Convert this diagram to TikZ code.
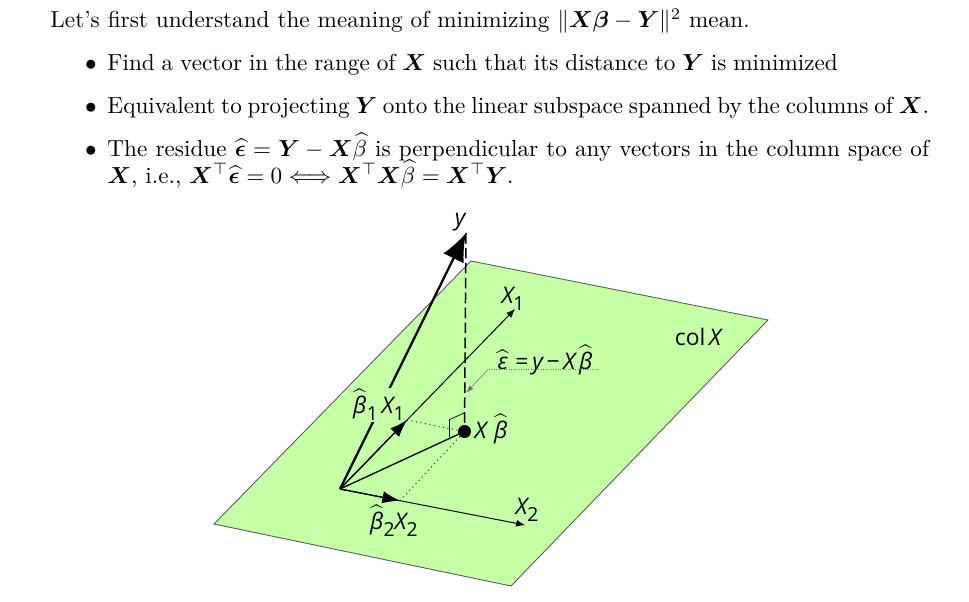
\documentclass[tikz,border=0pt]{standalone}
\usepackage{amsmath,amssymb}
\usepackage{bm}
\usepackage{fontspec}
\usepackage{xcolor}
\usetikzlibrary{arrows.meta}
\newfontfamily\labelfont{Open Sans}
\definecolor{planegreen}{RGB}{197,255,166}
\definecolor{edgegray}{RGB}{90,90,90}
\newcommand{\hatlbl}[1]{$\widehat{\hbox{\itshape\labelfont\,#1\,}}$}
\newcommand{\sublbl}[1]{\raisebox{-0.6ex}{\upshape\fontsize{11}{11}\selectfont #1}}
\begin{document}
\begin{tikzpicture}[x=0.02cm, y=-0.02cm]
    % Define styles
    \tikzset{
        textline/.style={anchor=base west, inner sep=0pt, scale=1.32},
        dotmark/.style={anchor=base, inner sep=0pt, scale=1.32},
        veclabel/.style={inner sep=1pt, font=\fontsize{13}{14}\selectfont\itshape\labelfont},
        vecline/.style={-{Latex[length=5pt,width=4pt]}, line width=0.55pt},
        halfvec/.style={-{Latex[length=10pt,width=7pt]}, line width=0.75pt},
        dotline/.style={dotted, line width=0.6pt, black!80}
    }
    \useasboundingbox (0,0) rectangle (969,601);

    % Text
    \node[textline] (intro) at (50,28) {\makebox[301.5pt][s]{Let's first understand the meaning of minimizing $\|\bm{X}\bm{\beta}-\bm{Y}\|^2$ mean.}};
    \node[dotmark] (dota) at (91,71) {$\bullet$};
    \node[textline] (linea) at (107,71) {\makebox[314.9pt][s]{Find a vector in the range of $\bm{X}$ such that its distance to $\bm{Y}$ is minimized}};
    \node[dotmark] (dotb) at (91,114) {$\bullet$};
    \node[textline] (lineb) at (107,114) {\makebox[354.3pt][s]{Equivalent to projecting $\bm{Y}$ onto the linear subspace spanned by the columns of $\bm{X}$.}};
    \node[dotmark] (dotc) at (91,156) {$\bullet$};
    \node[textline] (linec) at (107,156) {\makebox[354.3pt][s]{The residue $\widehat{\bm{\epsilon}}=\bm{Y}-\bm{X}\widehat{\beta}$ is perpendicular to any vectors in the column space of}};
    \node[textline] (lined) at (107,183) {$\bm{X}$, i.e., $\bm{X}^{\top}\widehat{\bm{\epsilon}}=0\Longleftrightarrow\bm{X}^{\top}\bm{X}\widehat{\beta}=\bm{X}^{\top}\bm{Y}$.};

    % Plane
    \coordinate (north) at (471,261);
    \coordinate (east) at (768,320);
    \coordinate (south) at (511,586);
    \coordinate (west) at (214,524);
    \draw[fill=planegreen, draw=edgegray, line width=0.5pt] (north) -- (east) -- (south) -- (west) -- cycle;

    % Points
    \coordinate (origin) at (340,489);
    \coordinate (ytip) at (466,233);
    \coordinate (xonetip) at (515,309);
    \coordinate (xtwotip) at (525,525);
    \coordinate (bonetip) at (407,420);
    \coordinate (btwotip) at (400,500.7);
    \coordinate (proj) at (464.5,431.5);

    % Vectors
    \draw[-{Latex[length=16pt,width=13pt]}, line width=1.3pt] (origin) -- (ytip);
    \node[veclabel, fill=planegreen] (bonelabel) at (377,405) {\hatlbl{β}\kern-2pt\sublbl{1}\,X\sublbl{1}};
    \draw[dashed, dash pattern=on 6pt off 2.5pt, line width=0.85pt] (ytip) -- (proj);
    \draw[vecline] (origin) -- (xonetip);
    \draw[vecline] (origin) -- (xtwotip);
    \draw[halfvec] (origin) -- (bonetip);
    \draw[halfvec] (origin) -- (btwotip);
    \draw[line width=0.75pt] (origin) -- (proj);
    \draw[dotline] (bonetip) -- (proj);
    \draw[dotline] (btwotip) -- (proj);

    % Right angle mark
    \coordinate (anglea) at (449.5,437);
    \coordinate (angleb) at (449.5,419.5);
    \coordinate (anglec) at (464,413);
    \draw[line width=0.4pt] (anglea) -- (angleb) -- (anglec);
    \fill (proj) circle (6.5);

    % Labels
    \node[veclabel] (ylabel) at (460,222) {y};
    \node[veclabel] (xonelabel) at (513,299) {X\sublbl{1}};
    \node[veclabel] (xtwolabel) at (527,510) {X\sublbl{2}};
    \node[veclabel] (btwolabel) at (392,521) {\hatlbl{β}\kern-2pt\sublbl{2}X\sublbl{2}};
    \node[veclabel] (projlabel) at (493,429) {X\,\hatlbl{β}};
    \node[veclabel] (collabel) at (698,337) {{\upshape col}\,X};
    \node[veclabel] (residlabel) at (545,360) {\hatlbl{ε}\,{\upshape =}\,y\,{\upshape −}\,X\hatlbl{β}};

    % Leader line
    \coordinate (leadend) at (598,369.5);
    \coordinate (leadmid) at (488,369.5);
    \coordinate (leadtip) at (466.5,392.5);
    \draw[black!55, densely dotted, line width=0.4pt] (leadend) -- (leadmid);
    \draw[black!55, line width=0.3pt, -{Latex[length=4pt,width=3pt]}] (leadmid) -- (leadtip);
\end{tikzpicture}
\end{document}
